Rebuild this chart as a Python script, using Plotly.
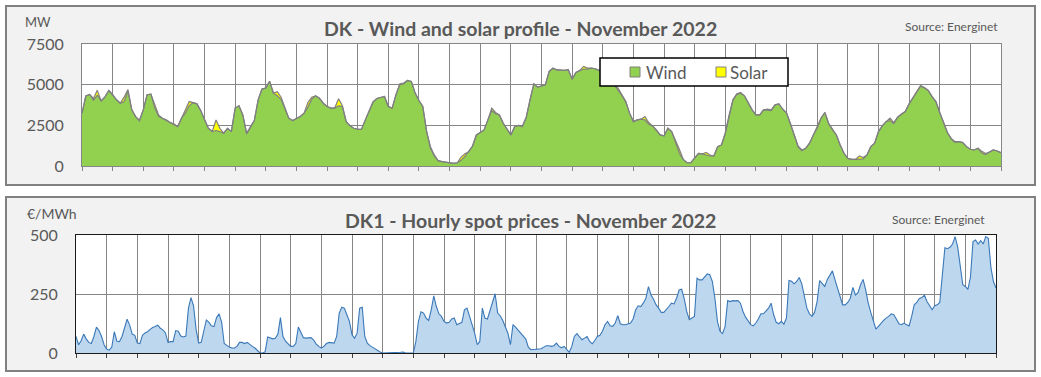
import pandas as pd
import plotly.graph_objects as go

# ---------------- data ----------------
# Wind and solar production, DK, MW, 3-hour samples (00,03,...,21) per day, Nov 1..30, plus Dec 1 00:00
wind_mw = [
    3250, 4300, 4400, 4050, 4350, 4000, 4250, 4640,   # 1
    4380, 4070, 3860, 3960, 4600, 3450, 3040, 2795,   # 2
    3450, 4380, 4420, 3560, 3060, 2940, 2836, 2670,   # 3
    2590, 2425, 2940, 3250, 3710, 3900, 3820, 3410,   # 4
    2836, 2320, 2117, 2180, 2117, 2015, 2320, 2117,   # 5
    3560, 3700, 3140, 1965, 2375, 2795, 4070, 4730,   # 6
    4790, 5200, 4480, 4320, 4080, 3560, 2940, 2795,   # 7
    2940, 3040, 3250, 3620, 4110, 4315, 4170, 3860,   # 8
    3660, 3560, 3560, 3700, 3650, 2730, 2465, 2320,   # 9
    2260, 2260, 2836, 3400, 3910, 4150, 4230, 4270,   # 10
    3660, 3560, 4380, 5005, 5050, 5260, 5200, 4480,   # 11
    4030, 3660, 2117, 1090, 600, 330, 270, 250,       # 12
    205, 165, 200, 350, 600, 880, 1230, 1910,         # 13
    2055, 2220, 2836, 3400, 3210, 3140, 2630, 2260,   # 14
    1910, 2425, 2500, 2415, 2950, 4070, 5055, 4850,   # 15
    4930, 4990, 5815, 5990, 5890, 5880, 5880, 5920,   # 16
    5340, 5750, 5880, 5960, 5960, 6020, 5980, 5880,   # 17
    5815, 5610, 5300, 4920, 4670, 4340, 3960, 3250,   # 18
    2730, 2836, 2880, 2836, 2570, 2465, 2220, 1910,   # 19
    1850, 2320, 2117, 1500, 780, 410, 205, 200,       # 20
    500, 780, 740, 680, 615, 615, 1190, 1295,         # 21
    2015, 3140, 4070, 4390, 4470, 4315, 3900, 3450,   # 22
    3140, 3140, 3450, 3450, 3410, 3760, 3820, 3490,   # 23
    3250, 2630, 1910, 1180, 935, 1090, 1400, 1910,    # 24
    2320, 2940, 3290, 2590, 2220, 1910, 1295, 780,    # 25
    470, 410, 410, 415, 440, 680, 1190, 1400,         # 26
    2117, 2465, 2730, 2790, 2610, 3000, 3200, 3350,   # 27
    3820, 4170, 4520, 4910, 4790, 4640, 4270, 3960,   # 28
    3290, 2630, 2055, 1660, 1460, 1500, 1440, 1190,   # 29
    1030, 985, 1090, 800, 700, 860, 985, 925,         # 30
    820,
]
solar_mw = [
    0, 0, 0, 100, 300, 0, 0, 0,   # 1
    0, 0, 0, 270, 100, 0, 0, 0,   # 2
    0, 0, 0, 200, 80, 0, 0, 0,    # 3
    0, 0, 0, 100, 250, 0, 0, 0,   # 4
    0, 0, 0, 650, 200, 0, 0, 0,   # 5
    0, 0, 0, 50, 50, 0, 0, 0,     # 6
    0, 0, 0, 250, 150, 0, 0, 0,   # 7
    0, 0, 0, 280, 120, 0, 0, 0,   # 8
    0, 0, 0, 430, 50, 0, 0, 0,    # 9
    0, 0, 0, 50, 50, 0, 0, 0,     # 10
    0, 0, 0, 50, 50, 0, 0, 0,     # 11
    0, 0, 0, 100, 80, 0, 0, 0,    # 12
    0, 0, 0, 200, 150, 0, 0, 0,   # 13
    0, 0, 0, 150, 80, 0, 0, 0,    # 14
    0, 0, 0, 50, 50, 0, 0, 0,     # 15
    0, 0, 0, 30, 30, 0, 0, 0,     # 16
    0, 0, 0, 160, 60, 0, 0, 0,    # 17
    0, 0, 0, 80, 120, 0, 0, 0,    # 18
    0, 0, 0, 200, 100, 0, 0, 0,   # 19
    0, 0, 0, 100, 250, 0, 0, 0,   # 20
    0, 0, 0, 160, 60, 0, 0, 0,    # 21
    0, 0, 0, 50, 50, 0, 0, 0,     # 22
    0, 0, 0, 40, 40, 0, 0, 0,     # 23
    0, 0, 0, 50, 50, 0, 0, 0,     # 24
    0, 0, 0, 40, 40, 0, 0, 0,     # 25
    0, 0, 0, 200, 80, 0, 0, 0,    # 26
    0, 0, 0, 150, 60, 0, 0, 0,    # 27
    0, 0, 0, 40, 40, 0, 0, 0,     # 28
    0, 0, 0, 40, 40, 0, 0, 0,     # 29
    0, 0, 0, 100, 60, 0, 0, 0,    # 30
    0,
]
# DK1 spot price, EUR/MWh, 2-hour samples (00,02,...,22) per day, Nov 1..30, plus Dec 1 00:00
price_eur = [
    70, 35, 52, 80, 60, 45, 40, 70, 110, 95, 70, 35,            # 1
    17, 12, 25, 90, 50, 48, 70, 110, 143, 118, 80, 75,          # 2
    42, 40, 75, 85, 90, 100, 108, 112, 118, 105, 98, 85,        # 3
    45, 48, 48, 95, 92, 72, 68, 72, 190, 235, 200, 100,         # 4
    42, 45, 100, 140, 130, 115, 112, 150, 166, 130, 40, 31,     # 5
    25, 21, 21, 28, 45, 45, 40, 45, 35, 28, 21, 10,             # 6
    0, 0, 5, 68, 63, 60, 62, 80, 150, 70, 50, 40,               # 7
    28, 28, 40, 110, 85, 65, 63, 63, 65, 55, 38, 28,            # 8
    21, 28, 40, 45, 44, 42, 70, 169, 194, 190, 162, 134,        # 9
    77, 63, 84, 190, 194, 70, 42, 31, 25, 17, 11, 4,            # 10
    0, 0, 0, 0, 0, 0, 0, 3, 4, 0, 0, 0,                         # 11
    0, 49, 134, 175, 169, 148, 138, 183, 242, 197, 166, 155,    # 12
    134, 127, 130, 144, 148, 120, 124, 130, 183, 190, 155, 120, # 13
    84, 35, 49, 190, 148, 144, 180, 218, 251, 169, 158, 138,    # 14
    113, 84, 35, 120, 110, 98, 84, 73, 59, 25, 14, 15,          # 15
    17, 17, 18, 25, 31, 31, 28, 31, 42, 28, 22, 28,             # 16
    14, 3, 28, 70, 82, 68, 56, 63, 70, 49, 39, 53,              # 17
    70, 75, 92, 120, 134, 115, 113, 127, 158, 124, 120, 120,    # 18
    124, 127, 144, 183, 200, 197, 211, 232, 281, 246, 228, 204, # 19
    190, 172, 172, 183, 197, 211, 208, 232, 267, 270, 230, 175, # 20
    141, 148, 155, 317, 310, 310, 321, 335, 332, 303, 232, 134, # 21
    92, 82, 113, 222, 218, 222, 221, 222, 211, 176, 152, 134,   # 22
    120, 115, 127, 144, 166, 166, 176, 190, 211, 162, 130, 124, # 23
    134, 122, 148, 307, 304, 293, 303, 320, 293, 239, 190, 166, # 24
    155, 172, 218, 307, 293, 282, 312, 329, 348, 310, 275, 232, # 25
    204, 204, 214, 232, 278, 246, 256, 289, 312, 267, 211, 172, # 26
    134, 101, 113, 127, 138, 148, 155, 166, 162, 144, 124, 120, # 27
    127, 120, 115, 155, 204, 214, 231, 235, 245, 218, 200, 183, # 28
    200, 204, 214, 317, 446, 442, 448, 462, 493, 450, 373, 289, # 29
    282, 270, 321, 472, 479, 462, 476, 462, 493, 486, 363, 303, # 30
    275,
]
y_ticks_mw = [0, 2500, 5000, 7500]
y_ticks_eur = [0, 250, 500]

title_top = "DK - Wind and solar profile - November 2022"
title_bottom = "DK1 - Hourly spot prices - November 2022"
source_text = "Source: Energinet"
unit_top = "MW"
unit_bottom = "€/MWh"

# ---------------- figure ----------------
W, H = 1041, 377
FONT = "Lato"
TXT = "#595959"
GRID = "#868686"


def px(x):
    return x / W


def py(y):
    return 1 - y / H


t_gen = pd.date_range("2022-11-01", periods=len(wind_mw), freq="3h")
t_price = pd.date_range("2022-11-01", periods=len(price_eur), freq="2h")
x_range = ["2022-11-01 00:00", "2022-12-01 00:00"]

fig = go.Figure()
fig.add_trace(go.Scatter(
    x=t_gen, y=wind_mw, name="Wind", stackgroup="gen", mode="lines",
    line=dict(color="#808080", width=1.2), fillcolor="#92D050",
    xaxis="x", yaxis="y", hoverinfo="skip"))
fig.add_trace(go.Scatter(
    x=t_gen, y=solar_mw, name="Solar", stackgroup="gen", mode="lines",
    line=dict(color="#808080", width=1.2), fillcolor="#FFFF00",
    xaxis="x", yaxis="y", hoverinfo="skip"))
fig.add_trace(go.Scatter(
    x=t_price, y=price_eur, name="Price", mode="lines", fill="tozeroy",
    line=dict(color="#3A78B8", width=1.1), fillcolor="#BDD7EE",
    xaxis="x2", yaxis="y2", hoverinfo="skip"))

common_x = dict(
    type="date", range=x_range, tick0="2022-11-01", dtick=86400000,
    showgrid=True, gridcolor=GRID, gridwidth=1, ticks="outside", ticklen=4,
    showticklabels=False, showline=True, mirror=True, zeroline=False,
    fixedrange=True, automargin=False,
)
common_y = dict(
    showgrid=True, gridcolor=GRID, showline=True, mirror=True,
    zeroline=False, ticks="", ticklabelstandoff=14, automargin=False,
    fixedrange=True, tickfont=dict(size=16, color=TXT, family=FONT),
)
fig.update_layout(
    width=W, height=H, autosize=False,
    margin=dict(l=0, r=0, t=0, b=0, pad=0, autoexpand=False),
    paper_bgcolor="white", plot_bgcolor="white", showlegend=False,
    font=dict(family=FONT, color=TXT),
    xaxis=dict(domain=[px(82), px(1001)], anchor="y", linecolor=GRID,
               tickcolor=GRID, **common_x),
    yaxis=dict(domain=[py(166), py(44)], anchor="x", range=[0, 7500],
               tickvals=y_ticks_mw, linecolor=GRID, **common_y),
    xaxis2=dict(domain=[px(76), px(996)], anchor="y2", linecolor="#1a1a1a",
                tickcolor="#404040", **common_x),
    yaxis2=dict(domain=[py(353), py(235)], anchor="x2", range=[0, 500],
                tickvals=y_ticks_eur, linecolor="#1a1a1a", **common_y),
)

shapes = [
    # panel boxes
    dict(type="rect", xref="paper", yref="paper", x0=px(6), x1=px(1035),
         y0=py(185), y1=py(6), fillcolor="#F2F2F2",
         line=dict(color="#808080", width=2), layer="below"),
    dict(type="rect", xref="paper", yref="paper", x0=px(6), x1=px(1035),
         y0=py(371), y1=py(197), fillcolor="#F2F2F2",
         line=dict(color="#808080", width=2), layer="below"),
    # white plot areas
    dict(type="rect", xref="x domain", yref="y domain", x0=0, x1=1, y0=0, y1=1,
         fillcolor="white", line=dict(width=0), layer="below"),
    dict(type="rect", xref="x2 domain", yref="y2 domain", x0=0, x1=1, y0=0, y1=1,
         fillcolor="white", line=dict(width=0), layer="below"),
    # legend box
    dict(type="rect", xref="paper", yref="paper", x0=px(600), x1=px(788),
         y0=py(86), y1=py(58), fillcolor="white",
         line=dict(color="black", width=1.5), layer="above"),
    dict(type="rect", xref="paper", yref="paper", x0=px(630), x1=px(640),
         y0=py(77), y1=py(67), fillcolor="#92D050",
         line=dict(color="#808080", width=1), layer="above"),
    dict(type="rect", xref="paper", yref="paper", x0=px(716), x1=px(726),
         y0=py(77), y1=py(67), fillcolor="#FFFF00",
         line=dict(color="#808080", width=1), layer="above"),
]
fig.update_layout(shapes=shapes)


def label(text, x, y, size, xanchor="center", bold=False):
    fig.add_annotation(
        text=text, x=px(x), y=py(y), xref="paper", yref="paper",
        xanchor=xanchor, yanchor="middle", showarrow=False,
        font=dict(family=FONT, size=size, color=TXT,
                  weight="bold" if bold else "normal"))


label(title_top, 520, 29, 19.5, bold=True)
label(title_bottom, 530, 220, 19.5, bold=True)
label(source_text, 1000, 26, 12, xanchor="right")
label(source_text, 987, 219, 12, xanchor="right")
label(unit_top, 38, 22, 13)
label(unit_bottom, 52, 214, 14)
label("Wind", 644, 72, 17, xanchor="left")
label("Solar", 728, 72, 17, xanchor="left")

page_fix = (
    "document.documentElement.style.margin='0';"
    "document.documentElement.style.padding='0';"
    "document.body.style.margin='0';document.body.style.padding='0';"
    "document.body.style.overflow='hidden';"
)
fig.write_html("out.html", post_script=page_fix,
               config={"displayModeBar": False, "responsive": False})
